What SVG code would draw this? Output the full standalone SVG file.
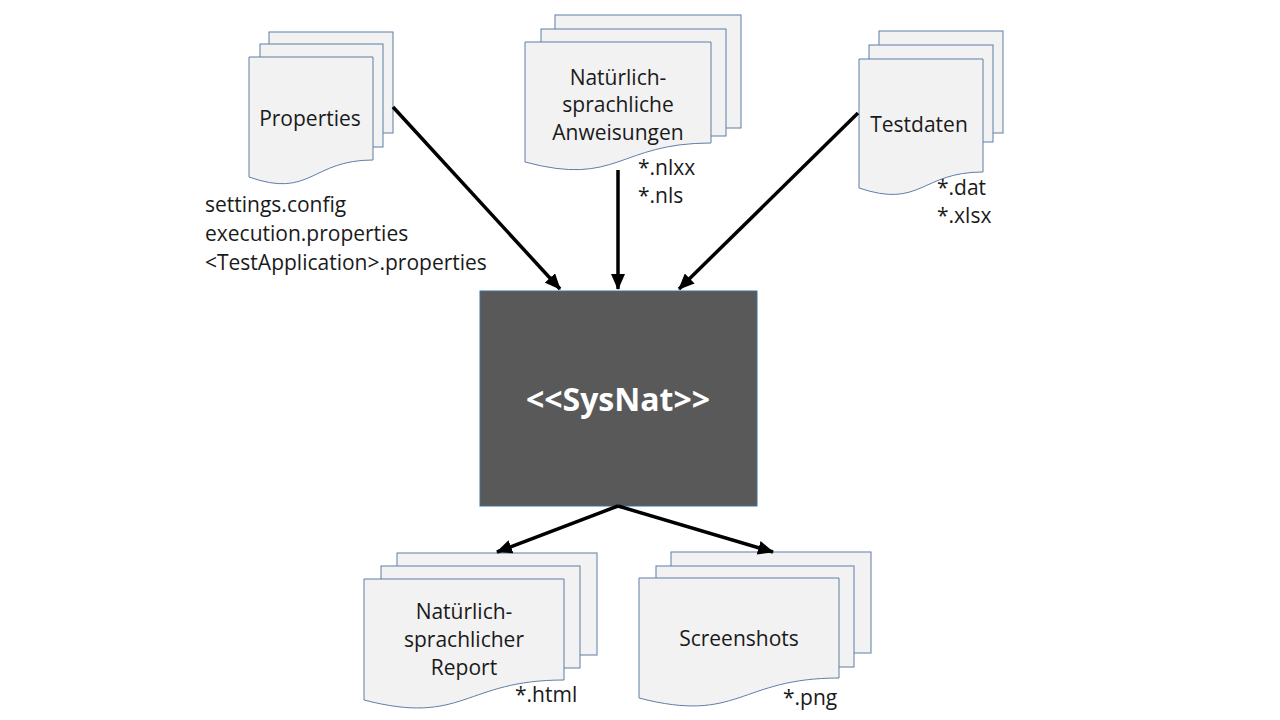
<svg xmlns="http://www.w3.org/2000/svg" width="1280" height="720" viewBox="0 0 1280 720">
<style>
.pg{fill:#F2F2F2;stroke:#5F7FA6;stroke-width:1}
.t{font-family:"Open Sans","Noto Sans",sans-serif;font-size:21px;fill:#1a1a1a}
.c{text-anchor:middle}
.con{stroke:#000;stroke-width:3.5;fill:none;marker-end:url(#ah)}
</style>
<defs>
<marker id="ah" markerUnits="userSpaceOnUse" markerWidth="16" markerHeight="14" viewBox="0 0 16 14" refX="15" refY="7" orient="auto">
<path d="M0,0 L16,7 L0,14 Z" fill="#000"/>
</marker>
</defs>
<rect width="1280" height="720" fill="#fff"/>

<g id="properties">
<rect class="pg" x="269" y="32" width="124" height="101"/>
<rect class="pg" x="260" y="44" width="123" height="103"/>
<path class="pg" d="M249,57 H373 V160 C311,160 311,199 249,177 Z"/>
<text class="t c" x="310" y="126">Properties</text>
<text class="t" x="205" y="212">settings.config</text>
<text class="t" x="205" y="241">execution.properties</text>
<text class="t" x="205" y="270">&lt;TestApplication&gt;.properties</text>
</g>

<g id="anweisungen">
<rect class="pg" x="555" y="15" width="186" height="113"/>
<rect class="pg" x="541" y="29" width="185" height="107"/>
<path class="pg" d="M525,42 H711 V143 C618,143 618,187 525,162 Z"/>
<text class="t c" x="618" y="85">Natürlich-</text>
<text class="t c" x="618" y="112">sprachliche</text>
<text class="t c" x="618" y="140">Anweisungen</text>
<text class="t" x="638" y="175">*.nlxx</text>
<text class="t" x="638" y="203">*.nls</text>
</g>

<g id="testdaten">
<rect class="pg" x="879" y="31" width="124" height="102"/>
<rect class="pg" x="869" y="45" width="124" height="97"/>
<path class="pg" d="M859,59 H983 V172 C921,172 921,209 859,188 Z"/>
<text class="t c" x="919" y="132">Testdaten</text>
<text class="t" x="937" y="195">*.dat</text>
<text class="t" x="937" y="223">*.xlsx</text>
</g>

<g id="sysnat">
<rect x="480" y="291" width="277" height="215" fill="#595959" stroke="#41719C" stroke-width="1"/>
<text x="618" y="411" text-anchor="middle" font-family="'Open Sans','Noto Sans',sans-serif" font-size="32" font-weight="bold" fill="#fff">&lt;&lt;SysNat&gt;&gt;</text>
</g>

<g id="report">
<rect class="pg" x="397" y="553" width="200" height="102"/>
<rect class="pg" x="381" y="566" width="199" height="102"/>
<path class="pg" d="M364,579 H564 V680 C464,680 464,726 364,700 Z"/>
<text class="t c" x="464" y="619">Natürlich-</text>
<text class="t c" x="464" y="647">sprachlicher</text>
<text class="t c" x="464" y="675">Report</text>
<text class="t" x="515" y="702">*.html</text>
</g>

<g id="screenshots">
<rect class="pg" x="671" y="552" width="200" height="101"/>
<rect class="pg" x="656" y="566" width="198" height="101"/>
<path class="pg" d="M639,578 H839 V678 C739,678 739,724 639,698 Z"/>
<text class="t c" x="739" y="646">Screenshots</text>
<text class="t" x="783" y="705">*.png</text>
</g>

<g id="connectors">
<line class="con" x1="393" y1="107" x2="560" y2="289"/>
<line class="con" x1="618" y1="170" x2="618" y2="289"/>
<line class="con" x1="858" y1="113" x2="679" y2="289"/>
<line class="con" x1="618" y1="506" x2="497" y2="552"/>
<line class="con" x1="618" y1="506" x2="773" y2="552"/>
</g>
</svg>
